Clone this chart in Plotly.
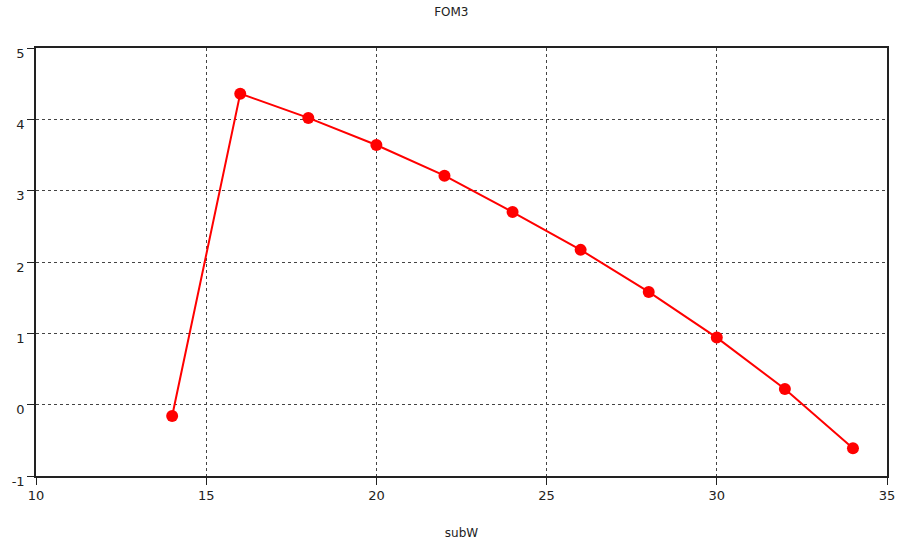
import plotly.graph_objects as go

# FOM3 as a function of subW
sub_w = [14, 16, 18, 20, 22, 24, 26, 28, 30, 32, 34]
fom3 = [-0.16, 4.36, 4.02, 3.64, 3.21, 2.70, 2.17, 1.58, 0.94, 0.22, -0.61]

x_ticks = [10, 15, 20, 25, 30, 35]
y_ticks = [-1, 0, 1, 2, 3, 4, 5]

fig = go.Figure()
fig.add_trace(go.Scatter(
    x=sub_w, y=fom3, mode="lines+markers",
    line=dict(color="#ff0000", width=2),
    marker=dict(color="#ff0000", size=12, symbol="circle"),
    showlegend=False,
))

axis_common = dict(
    showline=True, linecolor="#222222", linewidth=1.5, mirror=True,
    showgrid=True, gridcolor="#444444", griddash="dot", gridwidth=1.3,
    zeroline=False, automargin=False,
    ticks="outside", ticklen=7, tickcolor="#222222", tickwidth=1,
    tickfont=dict(family="DejaVu Sans", size=13, color="#222222"),
)

fig.update_xaxes(
    range=[10, 35], tickvals=x_ticks, ticktext=[str(v) for v in x_ticks],
    title=dict(text="subW", font=dict(family="DejaVu Sans", size=12, color="#222222"), standoff=26),
    **axis_common,
)
fig.update_yaxes(
    range=[-1, 5], tickvals=y_ticks, ticktext=[str(v) for v in y_ticks],
    ticklabelshift=5, ticklabelstandoff=0,
    **axis_common,
)

fig.update_layout(
    width=899, height=545,
    margin=dict(l=36, r=12, t=48, b=69),
    paper_bgcolor="white", plot_bgcolor="white",
    title=dict(text="FOM3", x=0.502, xanchor="center", y=0.978, yanchor="middle",
               font=dict(family="DejaVu Sans", size=12, color="#222222")),
)

fig.write_html("out.html")
